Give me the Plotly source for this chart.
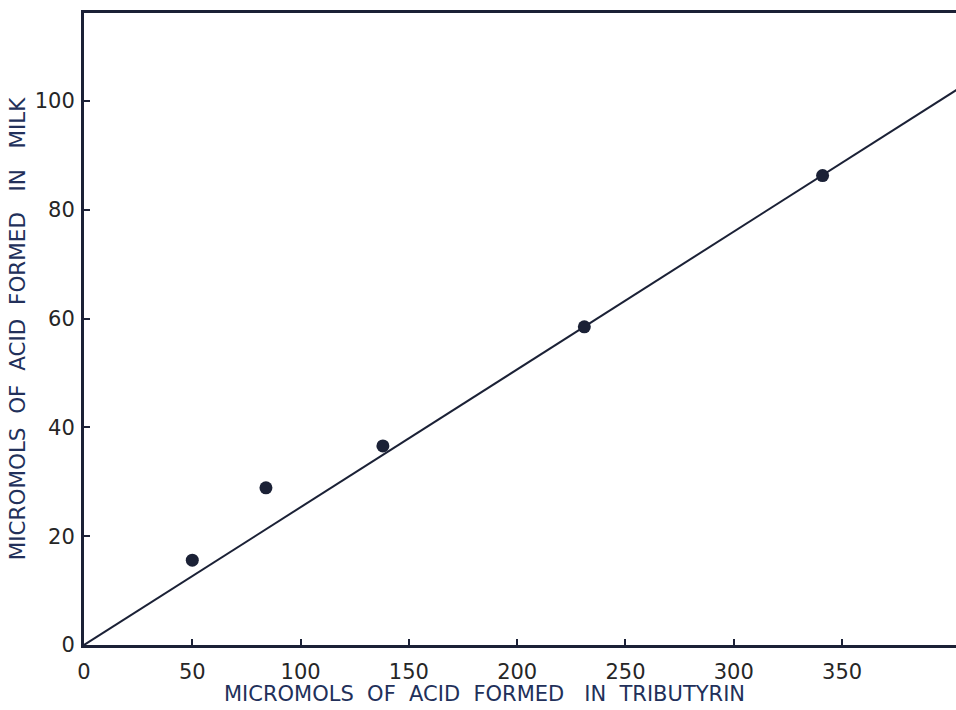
import plotly.graph_objects as go

# Data
tributyrin = [50, 84, 138, 231, 341]
milk = [15.6, 28.9, 36.6, 58.5, 86.3]
fit_x = [0, 403]
fit_y = [0, 102.1]

x_ticks = [0, 50, 100, 150, 200, 250, 300, 350]
y_ticks = [0, 20, 40, 60, 80, 100]

x_title = "MICROMOLS  OF  ACID  FORMED   IN  TRIBUTYRIN"
y_title = "MICROMOLS  OF  ACID  FORMED   IN   MILK"

ink = "#1b2136"
title_col = "#22305a"
tick_col = "#262626"

fig = go.Figure()
fig.add_trace(go.Scatter(x=fit_x, y=fit_y, mode="lines",
                         line=dict(color=ink, width=2), showlegend=False))
fig.add_trace(go.Scatter(x=tributyrin, y=milk, mode="markers",
                         marker=dict(color=ink, size=13), showlegend=False))

font_family = "DejaVu Sans"
fig.update_layout(
    width=956, height=710,
    margin=dict(l=84, r=0, t=13, b=65),
    paper_bgcolor="white", plot_bgcolor="white",
    font=dict(family=font_family, color=tick_col, size=21),
    xaxis=dict(range=[0, 402.6], tickvals=x_ticks, ticks="inside", ticklen=6,
               tickwidth=2, tickcolor=ink, showline=True, linecolor=ink,
               linewidth=3, mirror=True, showgrid=False, zeroline=False,
               ticklabelstandoff=6,
               tickfont=dict(size=21, color=tick_col)),
    yaxis=dict(range=[0, 116.2], tickvals=y_ticks, ticks="inside", ticklen=6,
               tickwidth=2, tickcolor=ink, showline=True, linecolor=ink,
               linewidth=3, mirror=False, showgrid=False, zeroline=False,
               ticklabelstandoff=2,
               tickfont=dict(size=21, color=tick_col),
               title=dict(text=y_title,
                          font=dict(size=21.5, color=title_col), standoff=4)),
    annotations=[dict(text=x_title, xref="paper", yref="paper",
                      x=0.459, y=-0.078, xanchor="center", yanchor="middle",
                      showarrow=False, font=dict(size=21, color=title_col))],
)

fig.write_html("out.html")
